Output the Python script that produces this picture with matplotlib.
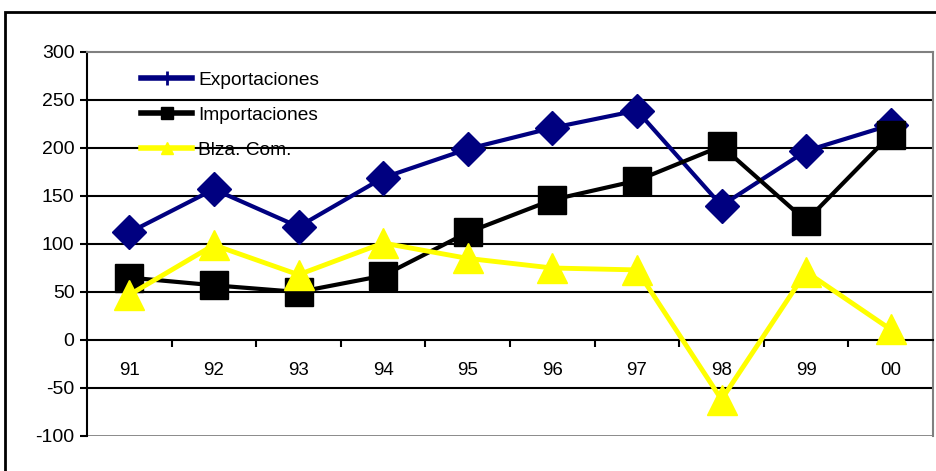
import matplotlib.pyplot as plt
from matplotlib.patches import Rectangle
from matplotlib.lines import Line2D

# data
years = ['91', '92', '93', '94', '95', '96', '97', '98', '99', '00']
exportaciones = [112, 157, 118, 169, 199, 221, 239, 140, 197, 224]
importaciones = [65, 57, 50, 67, 112, 146, 166, 202, 124, 214]
balanza = [47, 99, 68, 101, 85, 75, 73, -62, 71, 11]
y_ticks = [-100, -50, 0, 50, 100, 150, 200, 250, 300]

plt.rcParams['font.family'] = ['Liberation Sans', 'DejaVu Sans']
plt.rcParams['axes.unicode_minus'] = False

W, H = 936, 471
fig = plt.figure(figsize=(W / 100, H / 100), dpi=100)
ax = fig.add_axes([87 / W, 1 - 436 / H, (933 - 87) / W, (436 - 52) / H])

# outer chart frame (runs off the right and bottom of the image)
fig.patches.append(Rectangle((5 / W, -0.2), 1.2, 1.2 - 12 / H,
                             transform=fig.transFigure, fill=False,
                             edgecolor='black', linewidth=2))

x = list(range(len(years)))

ax.plot(x, exportaciones, color='#000080', lw=3, marker='D', ms=17, zorder=3)
ax.plot(x, importaciones, color='black', lw=3, marker='s', ms=20, zorder=4)
ax.plot(x, balanza, color='#FFFF00', lw=3.5, marker='^', ms=21, zorder=5)

ax.set_xlim(-0.5, len(years) - 0.5)
ax.set_ylim(-100, 300)

# horizontal gridlines
for v in y_ticks[1:-1]:
    if v != 0:
        ax.axhline(v, color='black', lw=1.5, zorder=1)

ax.spines['bottom'].set_position(('data', 0))
ax.spines['bottom'].set_color('black')
ax.spines['bottom'].set_linewidth(1.5)
ax.spines['left'].set_linewidth(1.5)
ax.spines['top'].set_color('#808080')
ax.spines['right'].set_color('#808080')
ax.spines['top'].set_linewidth(1.5)
ax.spines['right'].set_linewidth(1.5)
ax.axhline(-100, color='#808080', lw=2, zorder=1)

ax.set_yticks(y_ticks)
ax.tick_params(axis='y', length=5, width=1.5, labelsize=14, pad=4)

ax.set_xticks(x)
ax.set_xticklabels(years)
ax.set_xticks([i + 0.5 for i in x[:-1]], minor=True)
ax.tick_params(axis='x', which='major', length=0, labelsize=13.5, pad=15.5)
ax.tick_params(axis='x', which='minor', length=5, width=1.5, direction='out')

# legend handles drawn like the small Excel legend keys
handles = [
    Line2D([], [], color='#000080', lw=4, marker='|', ms=10, mew=2),
    Line2D([], [], color='black', lw=4, marker='s', ms=8),
    Line2D([], [], color='#FFFF00', lw=4, marker='^', ms=9),
]
labels = ['Exportaciones', 'Importaciones', 'Blza. Com.']
ax.legend(handles, labels, loc='upper left', bbox_to_anchor=(0.043, 0.995),
          frameon=False, fontsize=13.8, handlelength=2.7, labelspacing=0.93,
          handletextpad=0.3)

fig.savefig('out.png', dpi=100)
